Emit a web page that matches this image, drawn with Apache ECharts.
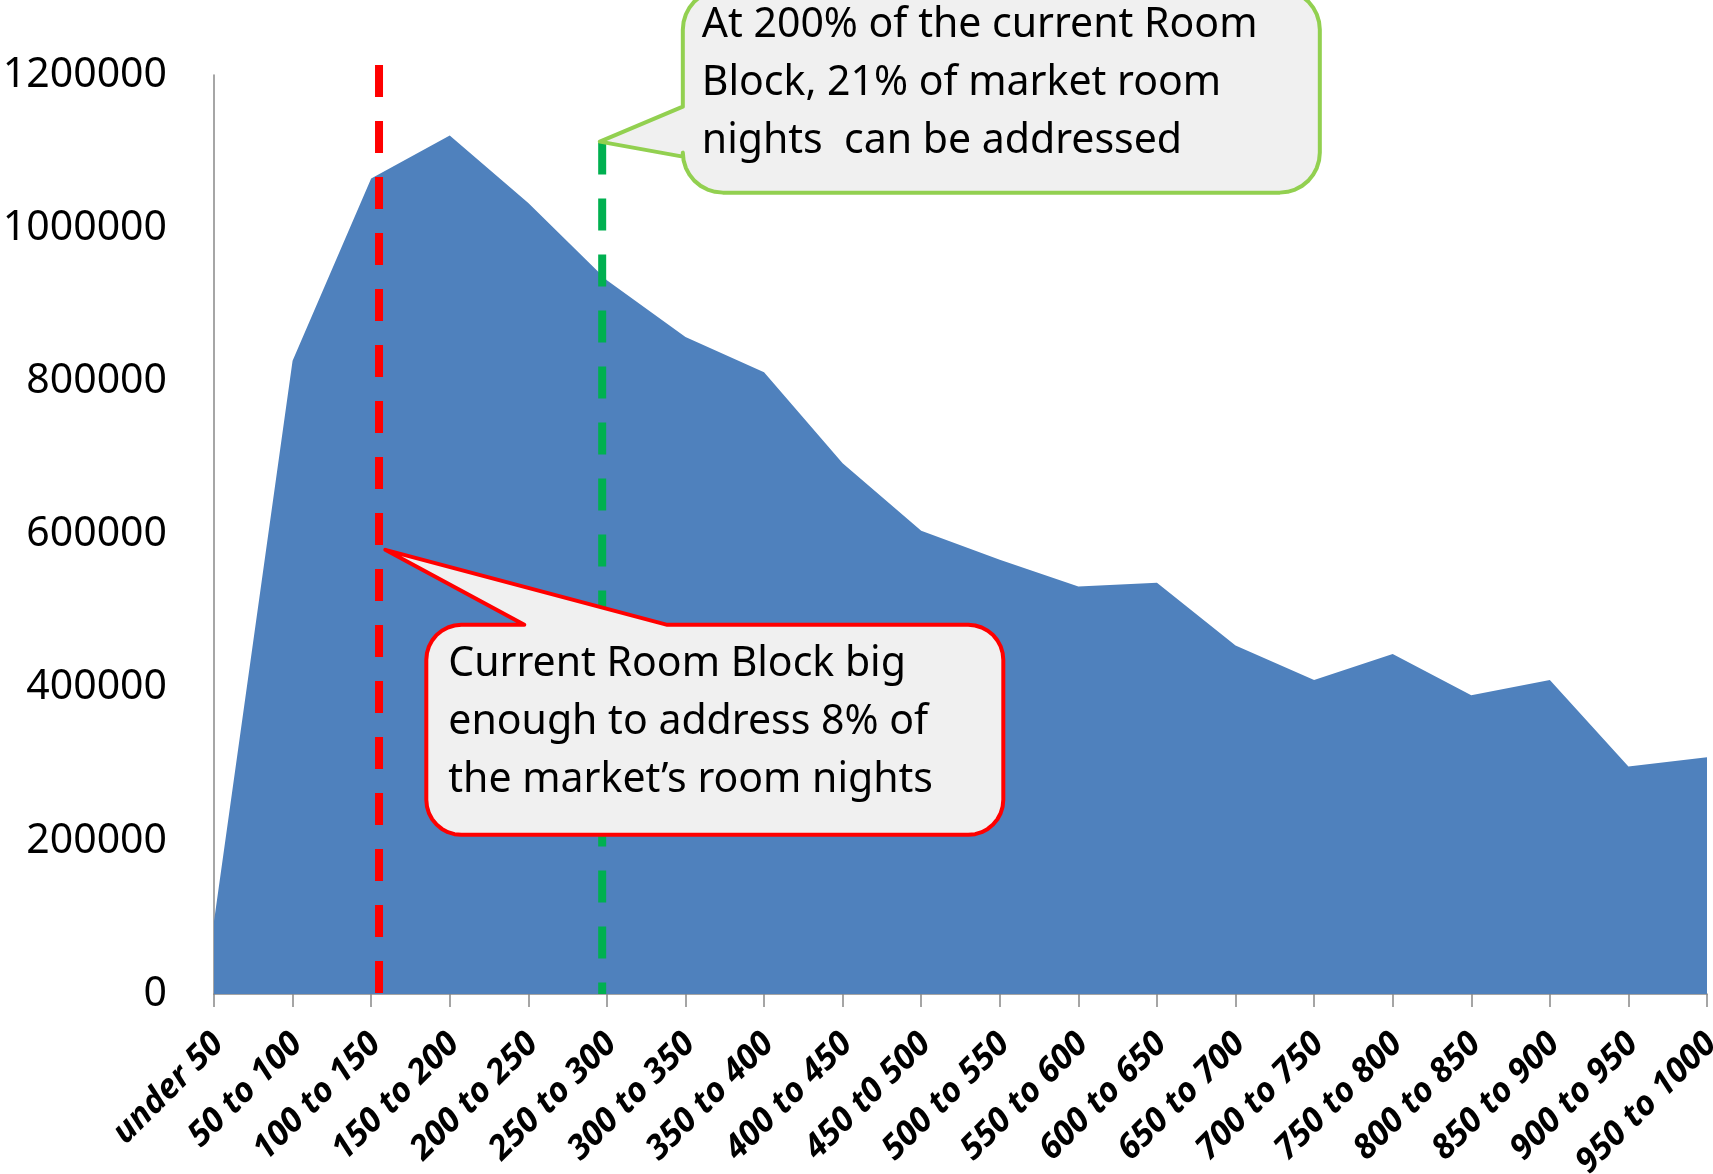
<!DOCTYPE html>
<html>
<head>
<meta charset="utf-8">
<title>Market room nights by room block size</title>
<script src="https://cdn.jsdelivr.net/npm/echarts@6/dist/echarts.min.js"></script>
<style>
  html, body { margin: 0; padding: 0; background: #fff; }
  #chart { width: 1713px; height: 1174px; }
</style>
</head>
<body>
<div id="chart"></div>
<script>
// room block size buckets (x axis)
var categories = ['under 50', '50 to 100', '100 to 150', '150 to 200', '200 to 250',
  '250 to 300', '300 to 350', '350 to 400', '400 to 450', '450 t0 500',
  '500 to 550', '550 to 600', '600 to 650', '650 to 700', '700 to 750',
  '750 to 800', '800 to 850', '850 to 900', '900 to 950', '950 to 1000'];

// market room nights per bucket
var roomNights = [95000, 827000, 1065000, 1121000, 1033000, 932000, 858000, 812000,
  693000, 605000, 567000, 532000, 537000, 455000, 410000, 444000, 390000, 410000,
  297000, 309000];

// y axis ticks
var yMin = 0, yMax = 1200000, yStep = 200000;

// dashed reference lines, in bucket units (0 = first bucket)
var currentBlockX = 2.1, currentBlockTop = 1213000;
var doubleBlockX = 4.94, doubleBlockTop = 1112000;

// where the callout pointers touch the chart
var redTip = [2.18, 580000];
var greenTip = [4.91, 1113000];

var redText = ['Current Room Block big', 'enough to address 8% of', 'the market\u2019s room nights'];
var greenText = ['At 200% of the current Room', 'Block, 21% of market room', 'nights  can be addressed'];

var chart = echarts.init(document.getElementById('chart'));

var option = {
  animation: false,
  grid: { left: 214, right: 6, top: 75, bottom: 180, outerBoundsMode: 'none' },
  xAxis: [{
    type: 'category',
    data: categories,
    boundaryGap: false,
    axisLine: { lineStyle: { color: '#888', width: 1.5 } },
    axisTick: { show: true, length: 13, lineStyle: { color: '#888', width: 1.5 } },
    axisLabel: {
      interval: 0,
      rotate: 45,
      margin: 49,
      padding: [0, -6, 0, 0],
      color: '#000',
      fontFamily: 'Noto Sans',
      fontSize: 34,
      fontWeight: 'bold',
      fontStyle: 'italic'
    },
    splitLine: { show: false }
  }, {
    // hidden helper axis so the dashed lines can sit between buckets
    type: 'value',
    min: 0,
    max: categories.length - 1,
    show: false
  }],
  yAxis: {
    type: 'value',
    min: yMin,
    max: yMax,
    interval: yStep,
    axisLine: { show: true, lineStyle: { color: '#888', width: 1.5 } },
    axisTick: { show: false },
    splitLine: { show: false },
    axisLabel: {
      margin: 47,
      color: '#000',
      fontFamily: 'Noto Sans',
      fontSize: 41,
      formatter: function (v) { return String(v); }
    }
  },
  series: [{
    name: 'room nights',
    type: 'line',
    data: roomNights,
    symbol: 'none',
    lineStyle: { width: 0 },
    areaStyle: { color: '#4F81BD', opacity: 1 },
    z: 2
  }, {
    name: 'current block',
    type: 'line',
    xAxisIndex: 1,
    data: [[currentBlockX, currentBlockTop], [currentBlockX, 0]],
    symbol: 'none',
    clip: false,
    lineStyle: { color: '#FF0000', width: 8, type: [32, 24], cap: 'butt' },
    z: 3
  }, {
    name: 'double block',
    type: 'line',
    xAxisIndex: 1,
    data: [[doubleBlockX, doubleBlockTop], [doubleBlockX, 0]],
    symbol: 'none',
    clip: false,
    lineStyle: { color: '#00B050', width: 8, type: [32, 24], cap: 'butt' },
    z: 3
  }]
};

chart.setOption(option);

// rounded box with a pointer, as polygon points
function calloutPoints(x0, y0, x1, y1, r, side, pointer) {
  var pts = [];
  function corner(cx, cy, a0) {
    for (var k = 0; k <= 8; k++) {
      var a = (a0 + k * 90 / 8) * Math.PI / 180;
      pts.push([cx + r * Math.cos(a), cy + r * Math.sin(a)]);
    }
  }
  corner(x0 + r, y0 + r, 180);
  if (side === 'top') pts = pts.concat(pointer);
  corner(x1 - r, y0 + r, 270);
  corner(x1 - r, y1 - r, 0);
  corner(x0 + r, y1 - r, 90);
  if (side === 'left') pts = pts.concat(pointer);
  return pts;
}

var rt = chart.convertToPixel({ seriesIndex: 1 }, redTip);
var gt = chart.convertToPixel({ seriesIndex: 2 }, greenTip);

var rBox = { x0: rt[0] + 41, y0: rt[1] + 75, x1: rt[0] + 618, y1: rt[1] + 285 };
var gBox = { x0: gt[0] + 83, y0: gt[1] - 152, x1: gt[0] + 720, y1: gt[1] + 51 };

chart.setOption({
  graphic: [{
    type: 'polygon',
    z: 100,
    shape: {
      points: calloutPoints(rBox.x0, rBox.y0, rBox.x1, rBox.y1, 35, 'top',
        [[rt[0] + 139, rBox.y0], rt, [rt[0] + 282, rBox.y0]])
    },
    style: { fill: '#F0F0F0', stroke: '#FF0000', lineWidth: 4, lineJoin: 'round' }
  }, {
    type: 'text',
    z: 101,
    x: rBox.x0 + 22,
    y: rBox.y0 + 10,
    style: {
      text: redText.join('\n'),
      fontFamily: 'Noto Sans',
      fontSize: 41,
      lineHeight: 58,
      fill: '#000',
      verticalAlign: 'top'
    }
  }, {
    type: 'polygon',
    z: 100,
    shape: {
      points: calloutPoints(gBox.x0, gBox.y0, gBox.x1, gBox.y1, 40, 'left',
        [[gBox.x0, gt[1] + 15], gt, [gBox.x0, gt[1] - 35]])
    },
    style: { fill: '#F0F0F0', stroke: '#92D050', lineWidth: 4, lineJoin: 'round' }
  }, {
    type: 'text',
    z: 101,
    x: gBox.x0 + 19,
    y: gBox.y0 + 7,
    style: {
      text: greenText.join('\n'),
      fontFamily: 'Noto Sans',
      fontSize: 41,
      lineHeight: 58,
      fill: '#000',
      verticalAlign: 'top'
    }
  }]
});
</script>
</body>
</html>
